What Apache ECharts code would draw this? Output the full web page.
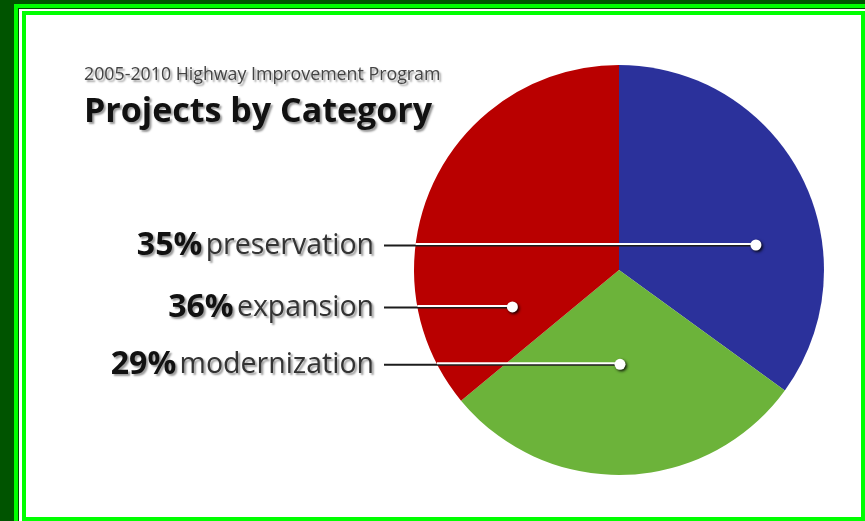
<!DOCTYPE html>
<html>
<head>
<meta charset="utf-8">
<script src="https://cdn.jsdelivr.net/npm/echarts@6/dist/echarts.min.js"></script>
<style>
html,body{margin:0;padding:0;width:865px;height:521px;overflow:hidden;background:#005400;position:relative;}
#g1{position:absolute;left:14px;top:4px;width:900px;height:560px;background:#00ff00;}
#g2{position:absolute;left:18px;top:8px;width:900px;height:560px;background:#004a00;}
#g3{position:absolute;left:19px;top:9px;width:900px;height:560px;background:#ffffff;}
#g4{position:absolute;left:22px;top:11px;width:843px;height:510px;box-sizing:border-box;border:4px solid #00ff00;background:#fff;}
#main{position:absolute;left:0;top:0;width:865px;height:521px;}
</style>
</head>
<body>
<div id="g1"></div><div id="g2"></div><div id="g3"></div><div id="g4"></div>
<div id="main"></div>
<script>
// ---- data ----
var categories = ['preservation', 'modernization', 'expansion'];
var values = [35, 29, 36];
var colors = ['#2b319b', '#6cb33a', '#b90000'];
var subtitleText = '2005-2010 Highway Improvement Program';
var titleText = 'Projects by Category';

// ---- layout ----
var CX = 619, CY = 270, R = 205;
var LABEL_RIGHT = 374;
var LINE_START = 384;
// dot offsets (fraction of radius) for each slice
var dotOffsets = [[0.668, -0.122], [0.005, 0.46], [-0.52, 0.18]];
function dotPos(i) {
  return [CX + dotOffsets[i][0] * R, CY + dotOffsets[i][1] * R];
}

var chart = echarts.init(document.getElementById('main'), null, {renderer: 'canvas'});
var shadow = {textShadowColor: 'rgba(0,0,0,0.4)', textShadowBlur: 2, textShadowOffsetX: 2, textShadowOffsetY: 2};

var data = categories.map(function (c, i) {
  return {name: c, value: values[i], itemStyle: {color: colors[i]}};
});

var graphics = [];
categories.forEach(function (c, i) {
  var p = dotPos(i);
  var dy = p[1] - CY;
  var edgeX = CX - Math.sqrt(R * R - dy * dy);
  graphics.push({
    type: 'line', z: 98,
    shape: {x1: LINE_START, y1: p[1] + 0.5, x2: p[0], y2: p[1] + 0.5},
    style: {stroke: '#1c1c1c', lineWidth: 2}
  });
  graphics.push({
    type: 'line', z: 99,
    shape: {x1: edgeX, y1: p[1] - 1, x2: p[0], y2: p[1] - 1},
    style: {stroke: '#ffffff', lineWidth: 2}
  });
  graphics.push({
    type: 'circle', z: 100,
    shape: {cx: p[0], cy: p[1], r: 5.5},
    style: {fill: '#fff', shadowColor: 'rgba(0,0,0,0.85)', shadowBlur: 3, shadowOffsetX: 1.5, shadowOffsetY: 1.5}
  });
});

chart.setOption({
  backgroundColor: 'transparent',
  animation: false,
  title: [
    {text: subtitleText, left: 79, top: 61,
     textStyle: Object.assign({fontFamily: 'Open Sans', fontSize: 17.8, fontWeight: 'normal', color: '#444'}, shadow)},
    {text: titleText, left: 79, top: 90,
     textStyle: Object.assign({fontFamily: 'Open Sans', fontSize: 34, fontWeight: 'bold', color: '#111'}, shadow)}
  ],
  graphic: graphics,
  series: [{
    type: 'pie',
    center: [CX, CY],
    radius: R,
    startAngle: 90,
    clockwise: true,
    silent: true,
    avoidLabelOverlap: false,
    data: data,
    label: {
      show: true,
      position: 'outside',
      overflow: 'none',
      formatter: function (p) { return '{p|' + p.value + '%} {n|' + p.name + '}'; },
      rich: {
        p: Object.assign({fontFamily: 'Open Sans', fontSize: 32, fontWeight: 'bold', color: '#111'}, shadow),
        n: Object.assign({fontFamily: 'Open Sans', fontSize: 28.5, fontWeight: 'normal', color: '#333'}, shadow)
      }
    },
    labelLine: {show: false},
    labelLayout: function (params) {
      var p = dotPos(params.dataIndex);
      return {x: LABEL_RIGHT, y: p[1] + 1, align: 'right', verticalAlign: 'middle'};
    }
  }]
});
</script>
</body>
</html>
